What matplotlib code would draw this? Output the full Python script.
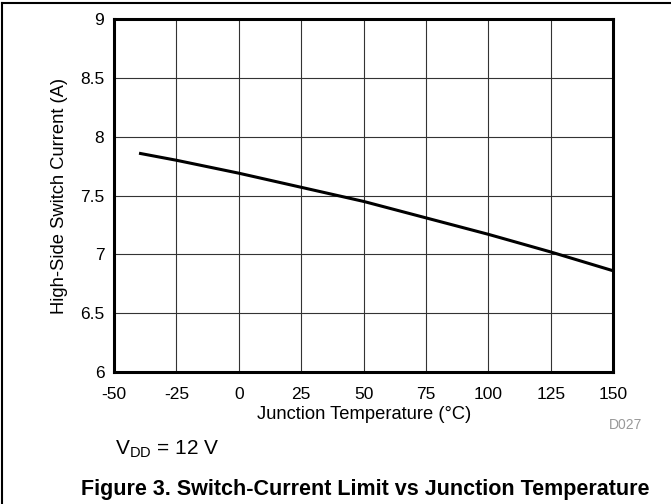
import matplotlib
matplotlib.use('Agg')
import matplotlib.pyplot as plt
from matplotlib.lines import Line2D

plt.rcParams['font.family'] = ['Liberation Sans', 'DejaVu Sans']

# data
temp_c = [-40, -25, 0, 25, 50, 75, 100, 125, 150]
current_a = [7.86, 7.80, 7.69, 7.57, 7.45, 7.31, 7.17, 7.02, 6.86]

x_ticks = [-50, -25, 0, 25, 50, 75, 100, 125, 150]
y_ticks = [6, 6.5, 7, 7.5, 8, 8.5, 9]
y_tick_labels = ['6', '6.5', '7', '7.5', '8', '8.5', '9']

fig = plt.figure(figsize=(6.71, 5.04), dpi=100)
ax = fig.add_axes([0.170, 0.262, 0.744, 0.700])

ax.plot(temp_c, current_a, color='black', lw=2.2, solid_capstyle='butt')

ax.set_xlim(-50, 150)
ax.set_ylim(6, 9)
ax.set_xticks(x_ticks)
ax.set_xticklabels([str(t) for t in x_ticks])
ax.set_yticks(y_ticks)
ax.set_yticklabels(y_tick_labels)
ax.tick_params(length=0, labelsize=12.5)
ax.tick_params(axis='x', pad=11)
ax.tick_params(axis='y', pad=7)
ax.grid(True, color='#333333', lw=0.8)
ax.set_axisbelow(True)
for s in ax.spines.values():
    s.set_linewidth(2.2)
    s.set_color('black')

# axis titles placed in figure coordinates
fig.text(0.543, 0.177, 'Junction Temperature (°C)', fontsize=13.2, ha='center', va='center')
fig.text(0.089, 0.611, 'High-Side Switch Current (A)', fontsize=13.2, rotation=90,
         ha='center', va='center')

fig.text(0.957, 0.157, 'D027', fontsize=10, color='#999999', ha='right', va='center')
fig.text(0.171, 0.099, r'V$_{\mathregular{DD}}$ = 12 V', fontsize=15, ha='left', va='baseline')
fig.text(0.544, 0.018, 'Figure 3. Switch-Current Limit vs Junction Temperature',
         fontsize=15.5, fontweight='bold', ha='center', va='baseline')

# outer frame (left and top only)
fig.add_artist(Line2D([0.003, 0.003], [0.0, 0.995], transform=fig.transFigure, color='black', lw=1.5))
fig.add_artist(Line2D([0.003, 1.0], [0.995, 0.995], transform=fig.transFigure, color='black', lw=1.5))

fig.savefig('out.png', dpi=100)
